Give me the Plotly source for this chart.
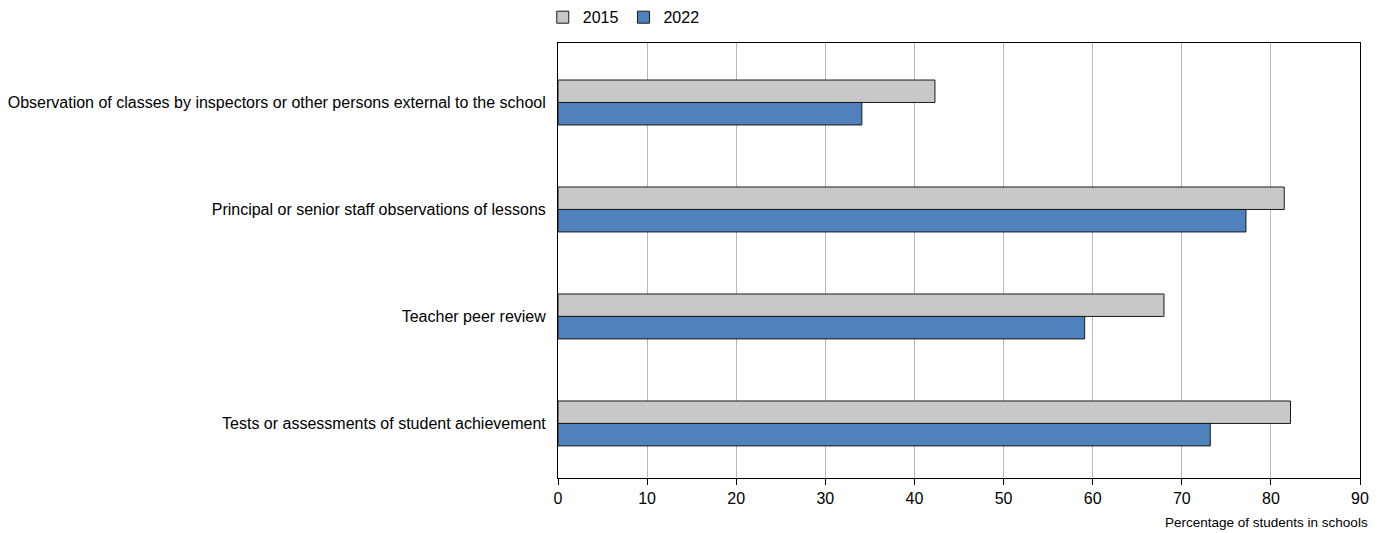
import plotly.graph_objects as go

categories = [
    "Observation of classes by inspectors or other persons external to the school",
    "Principal or senior staff observations of lessons",
    "Teacher peer review",
    "Tests or assessments of student achievement",
]
values_2015 = [42.3, 81.5, 68.0, 82.2]
values_2022 = [34.1, 77.2, 59.1, 73.2]
x_ticks = [0, 10, 20, 30, 40, 50, 60, 70, 80, 90]

fig = go.Figure()
fig.add_trace(go.Bar(
    y=categories, x=values_2015, name="2015", orientation="h",
    marker=dict(color="#C8C8C8", line=dict(color="#1a1a1a", width=1)),
    offsetgroup="a",
))
fig.add_trace(go.Bar(
    y=categories, x=values_2022, name="2022", orientation="h",
    marker=dict(color="#4F81BD", line=dict(color="#1a1a1a", width=1)),
    offsetgroup="b",
))

fig.update_layout(
    width=1377, height=525,
    barmode="group", bargap=0.58, bargroupgap=0,
    plot_bgcolor="white", paper_bgcolor="white",
    font=dict(family="Liberation Sans, Arial, sans-serif", size=16, color="#000"),
    margin=dict(l=550, r=25, t=35, b=55, autoexpand=False),
    legend=dict(orientation="h", x=-0.019, y=1.02, xanchor="left", yanchor="bottom",
                font=dict(size=16), itemwidth=30, traceorder="normal",
                tracegroupgap=0, itemclick=False),
    showlegend=True,
)
fig.update_xaxes(
    range=[0, 90], tickvals=x_ticks, showgrid=True, gridcolor="#b8b8b8", gridwidth=1,
    showline=True, linecolor="#000", linewidth=1, mirror=True,
    ticks="outside", ticklen=6, tickcolor="#000", zeroline=False,
    tickfont=dict(size=16),
)
fig.update_yaxes(
    range=[3.51, -0.556], showgrid=False, showline=True, linecolor="#000",
    linewidth=1, mirror=True, ticks="", ticklabelstandoff=8,
    tickfont=dict(size=16),
)
fig.add_annotation(
    text="Percentage of students in schools", xref="paper", yref="paper",
    x=1.0125, y=0, xanchor="right", yanchor="middle", yshift=-44, showarrow=False,
    font=dict(size=13.5),
)
fig.write_html("out.html")
